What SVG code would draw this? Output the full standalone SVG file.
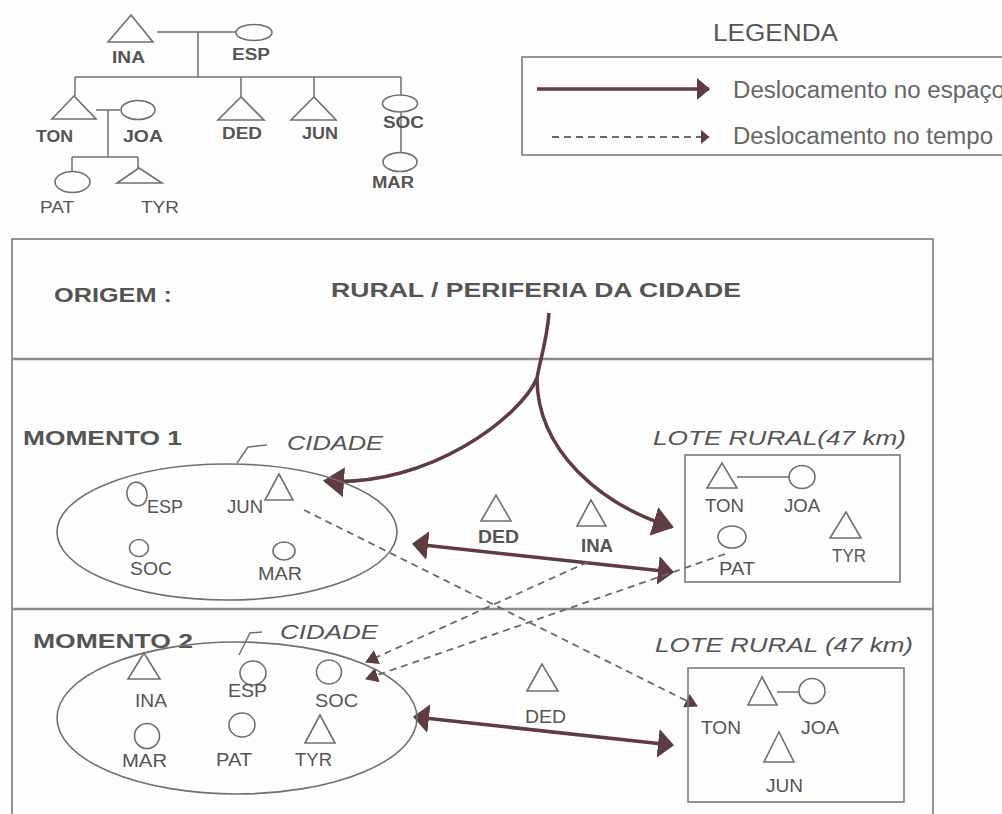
<svg xmlns="http://www.w3.org/2000/svg" width="1002" height="814" viewBox="0 0 1002 814">
<style>
text{font-family:"Liberation Sans",Arial,sans-serif;fill:#555}
.gl{font-size:16px;font-weight:bold}
.nl{font-size:18px}
.nb{font-size:18px;font-weight:bold}
.ttl{font-size:21px;font-weight:bold}
.it{font-size:21px;font-style:italic}
.lg{font-size:23px;fill:#666}
.sym{fill:none;stroke:#707070;stroke-width:1.6}
.ln{fill:none;stroke:#707070;stroke-width:1.5}
.frame{fill:none;stroke:#7a7a7a;stroke-width:1.6}
.sep{stroke:#8c8c8c;stroke-width:2.5}
.thick{fill:none;stroke:#5e3c40;stroke-width:3.5}
.dash{fill:none;stroke:#6a6a6a;stroke-width:1.8;stroke-dasharray:7 5}
</style>
<defs>
<marker id="ahC" markerUnits="userSpaceOnUse" markerWidth="21" markerHeight="30" viewBox="0 0 21 30" refX="19" refY="15" orient="auto-start-reverse"><path d="M0,0 L21,15 L0,30 Z" fill="#5e3c40"/></marker>
<marker id="ahD" markerUnits="userSpaceOnUse" markerWidth="16" markerHeight="29" viewBox="0 0 16 29" refX="14" refY="14.5" orient="auto-start-reverse"><path d="M0,0 L16,14.5 L0,29 Z" fill="#5e3c40"/></marker>
<marker id="ahL" markerUnits="userSpaceOnUse" markerWidth="13" markerHeight="22" viewBox="0 0 13 22" refX="12" refY="11" orient="auto"><path d="M0,0 L13,11 L0,22 Z" fill="#5e3c40"/></marker>
<marker id="dah" markerUnits="userSpaceOnUse" markerWidth="13" markerHeight="15" viewBox="0 0 13 15" refX="12" refY="7.5" orient="auto"><path d="M0,0 L13,7.5 L0,15 Z" fill="#5e3c40"/></marker>
<marker id="dahL" markerUnits="userSpaceOnUse" markerWidth="9" markerHeight="15" viewBox="0 0 9 15" refX="8.5" refY="7.5" orient="auto"><path d="M0,0 L9,7.5 L0,15 Z" fill="#5e3c40"/></marker>
</defs>
<rect x="0" y="0" width="1002" height="814" fill="#fdfdfd"/>

<!-- Legend -->
<g id="legend">
<text x="713" y="41" class="lg" style="fill:#555" textLength="125" lengthAdjust="spacingAndGlyphs">LEGENDA</text>
<rect x="522" y="57" width="500" height="98" class="frame"/>
<path d="M537,89 L709,89" class="thick" marker-end="url(#ahL)"/>
<path d="M552,137 L709,137" class="dash" stroke-dasharray="6 3" stroke-width="1.4" marker-end="url(#dahL)"/>
<text x="733" y="98" class="lg" textLength="272" lengthAdjust="spacingAndGlyphs">Deslocamento no espaço</text>
<text x="733" y="144" class="lg" textLength="260" lengthAdjust="spacingAndGlyphs">Deslocamento no tempo</text>
</g>

<!-- Main frame -->
<g id="frame">
<rect x="12" y="239" width="921" height="600" class="frame"/>
<line x1="12" y1="359" x2="933" y2="359" class="sep"/>
<line x1="12" y1="609" x2="933" y2="609" class="sep"/>
<text x="54" y="302" class="ttl" textLength="118" lengthAdjust="spacingAndGlyphs">ORIGEM :</text>
<text x="331" y="297" class="ttl" textLength="410" lengthAdjust="spacingAndGlyphs">RURAL / PERIFERIA DA CIDADE</text>
<text x="23" y="445" class="ttl" textLength="159" lengthAdjust="spacingAndGlyphs">MOMENTO 1</text>
<text x="33" y="648" class="ttl" textLength="160" lengthAdjust="spacingAndGlyphs">MOMENTO 2</text>
</g>

<!-- Connectors -->
<g id="connectors">
<!-- genealogy links -->
<path class="ln" d="M157,32 L236,32 M198,32 L198,77 M75,77 L401,77 M75,77 L75,96 M241,77 L241,97 M314,77 L314,97 M401,77 L401,95 M401,112 L401,153 M96,110 L120,110 M108,110 L108,157 M72,157 L138,157 M72,157 L72,172 M138,157 L138,168"/>
<!-- lote rural couples -->
<path class="ln" d="M737,477 L789,477 M777,692 L799,692"/>
<!-- spatial displacement -->
<path class="thick" d="M549,313 C547,340 540,360 537,378 C522,415 430,488 325,481" marker-end="url(#ahC)"/>
<path class="thick" d="M537,378 C537,450 600,505 672,527" marker-end="url(#ahC)"/>
<path class="thick" d="M414,544 L672,572" marker-start="url(#ahD)" marker-end="url(#ahD)"/>
<path class="thick" d="M415,717 L672,745" marker-start="url(#ahD)" marker-end="url(#ahD)"/>
<!-- time displacement -->
<path class="dash" d="M304,510 L697,706" marker-end="url(#dah)"/>
<path class="dash" d="M588,562 L366,662" marker-end="url(#dah)"/>
<path class="dash" d="M725,554 L366,679" marker-end="url(#dah)"/>
</g>

<!-- Genealogy nodes -->
<g id="gen-INA"><path class="sym" d="M131,15 L108,42 L153,42 Z"/><text x="112" y="63" class="gl" textLength="33" lengthAdjust="spacingAndGlyphs">INA</text></g>
<g id="gen-ESP"><ellipse class="sym" cx="254" cy="32.5" rx="18" ry="8"/><text x="232" y="60" class="gl" textLength="38" lengthAdjust="spacingAndGlyphs">ESP</text></g>
<g id="gen-TON"><path class="sym" d="M74,96 L52,119 L96,119 Z"/><text x="36" y="142" class="gl" textLength="37" lengthAdjust="spacingAndGlyphs">TON</text></g>
<g id="gen-JOA"><ellipse class="sym" cx="138" cy="110" rx="17" ry="9.5"/><text x="123" y="142" class="gl" textLength="40" lengthAdjust="spacingAndGlyphs">JOA</text></g>
<g id="gen-DED"><path class="sym" d="M241,97 L218,120 L264,120 Z"/><text x="222" y="139" class="gl" textLength="40" lengthAdjust="spacingAndGlyphs">DED</text></g>
<g id="gen-JUN"><path class="sym" d="M314,97 L291,120 L336,120 Z"/><text x="302" y="139" class="gl" textLength="36" lengthAdjust="spacingAndGlyphs">JUN</text></g>
<g id="gen-SOC"><ellipse class="sym" cx="400" cy="103.5" rx="17.5" ry="8.5"/><text x="383" y="128" class="gl" textLength="41" lengthAdjust="spacingAndGlyphs">SOC</text></g>
<g id="gen-MAR"><ellipse class="sym" cx="400" cy="162" rx="17" ry="9.5"/><text x="372" y="188" class="gl" textLength="42" lengthAdjust="spacingAndGlyphs">MAR</text></g>
<g id="gen-PAT"><ellipse class="sym" cx="72.5" cy="182" rx="17.5" ry="10.5"/><text x="40" y="213" class="gl" style="font-weight:normal" textLength="34" lengthAdjust="spacingAndGlyphs">PAT</text></g>
<g id="gen-TYR"><path class="sym" d="M139,168 L117,183 L162,183 Z"/><text x="141" y="213" class="gl" style="font-weight:normal" textLength="38" lengthAdjust="spacingAndGlyphs">TYR</text></g>

<!-- Momento 1 : Cidade -->
<g id="m1-cidade">
<ellipse class="sym" cx="227" cy="532" rx="170" ry="68"/>
<path class="ln" d="M237,463 L248,447 L267,445"/>
<text x="287" y="450" class="it" textLength="96" lengthAdjust="spacingAndGlyphs">CIDADE</text>
</g>
<g id="m1-ESP"><ellipse class="sym" cx="137" cy="494" rx="10" ry="12" transform="rotate(-15 137 494)"/><text x="147" y="513" class="nl" textLength="36" lengthAdjust="spacingAndGlyphs">ESP</text></g>
<g id="m1-JUN"><text x="227" y="513" class="nl" textLength="36" lengthAdjust="spacingAndGlyphs">JUN</text><path class="sym" d="M279,474 L265,500 L293,500 Z"/></g>
<g id="m1-SOC"><ellipse class="sym" cx="139" cy="548" rx="9.5" ry="8.5"/><text x="130" y="575" class="nl" textLength="42" lengthAdjust="spacingAndGlyphs">SOC</text></g>
<g id="m1-MAR"><ellipse class="sym" cx="284" cy="551" rx="11" ry="9"/><text x="258" y="580" class="nl" textLength="44" lengthAdjust="spacingAndGlyphs">MAR</text></g>

<!-- Momento 1 : between -->
<g id="m1-DED"><path class="sym" d="M496,495 L481,521 L511,521 Z"/><text x="478" y="543" class="nb" textLength="41" lengthAdjust="spacingAndGlyphs">DED</text></g>
<g id="m1-INA"><path class="sym" d="M591,500 L577,526 L606,526 Z"/><text x="581" y="552" class="nb" textLength="32" lengthAdjust="spacingAndGlyphs">INA</text></g>

<!-- Momento 1 : Lote rural -->
<g id="m1-lote">
<rect x="685" y="455" width="215" height="127" class="frame"/>
<text x="653" y="445" class="it" textLength="253" lengthAdjust="spacingAndGlyphs">LOTE RURAL(47 km)</text>
</g>
<g id="m1-TON"><path class="sym" d="M722,463 L707,488 L737,488 Z"/><text x="705" y="512" class="nl" textLength="39" lengthAdjust="spacingAndGlyphs">TON</text></g>
<g id="m1-JOA"><ellipse class="sym" cx="802" cy="477" rx="13" ry="11.5"/><text x="784" y="512" class="nl" textLength="36" lengthAdjust="spacingAndGlyphs">JOA</text></g>
<g id="m1-PAT"><ellipse class="sym" cx="732" cy="537" rx="14" ry="11"/><text x="719" y="575" class="nl" textLength="36" lengthAdjust="spacingAndGlyphs">PAT</text></g>
<g id="m1-TYR"><path class="sym" d="M846,512 L830,538 L861,538 Z"/><text x="832" y="562" class="nl" textLength="34" lengthAdjust="spacingAndGlyphs">TYR</text></g>

<!-- Momento 2 : Cidade -->
<g id="m2-cidade">
<ellipse class="sym" cx="237" cy="718" rx="180" ry="76"/>
<path class="ln" d="M239,655 L250,633 L262,632"/>
<text x="280" y="639" class="it" textLength="98" lengthAdjust="spacingAndGlyphs">CIDADE</text>
</g>
<g id="m2-INA"><path class="sym" d="M144,653 L128,679 L160,679 Z"/><text x="135" y="707" class="nl" textLength="32" lengthAdjust="spacingAndGlyphs">INA</text></g>
<g id="m2-ESP"><ellipse class="sym" cx="253" cy="673" rx="13" ry="12"/><text x="228" y="697" class="nl" textLength="39" lengthAdjust="spacingAndGlyphs">ESP</text></g>
<g id="m2-SOC"><ellipse class="sym" cx="329" cy="672" rx="12.5" ry="12"/><text x="315" y="707" class="nl" textLength="43" lengthAdjust="spacingAndGlyphs">SOC</text></g>
<g id="m2-MAR"><ellipse class="sym" cx="147" cy="736" rx="12.5" ry="12.5"/><text x="122" y="767" class="nl" textLength="45" lengthAdjust="spacingAndGlyphs">MAR</text></g>
<g id="m2-PAT"><ellipse class="sym" cx="242" cy="725" rx="13" ry="12"/><text x="216" y="766" class="nl" textLength="36" lengthAdjust="spacingAndGlyphs">PAT</text></g>
<g id="m2-TYR"><path class="sym" d="M320,715 L305,743 L335,743 Z"/><text x="295" y="766" class="nl" textLength="37" lengthAdjust="spacingAndGlyphs">TYR</text></g>

<!-- Momento 2 : between -->
<g id="m2-DED"><path class="sym" d="M542,664 L527,691 L558,691 Z"/><text x="525" y="723" class="nl" textLength="41" lengthAdjust="spacingAndGlyphs">DED</text></g>

<!-- Momento 2 : Lote rural -->
<g id="m2-lote">
<rect x="688" y="668" width="216" height="134" class="frame"/>
<text x="655" y="652" class="it" textLength="258" lengthAdjust="spacingAndGlyphs">LOTE RURAL (47 km)</text>
</g>
<g id="m2-TON"><path class="sym" d="M762,677 L748,705 L777,705 Z"/><text x="701" y="734" class="nl" textLength="40" lengthAdjust="spacingAndGlyphs">TON</text></g>
<g id="m2-JOA"><ellipse class="sym" cx="812" cy="691" rx="13" ry="12.5"/><text x="801" y="734" class="nl" textLength="38" lengthAdjust="spacingAndGlyphs">JOA</text></g>
<g id="m2-JUN"><path class="sym" d="M779,732 L764,762 L794,762 Z"/><text x="766" y="792" class="nl" textLength="37" lengthAdjust="spacingAndGlyphs">JUN</text></g>
</svg>
